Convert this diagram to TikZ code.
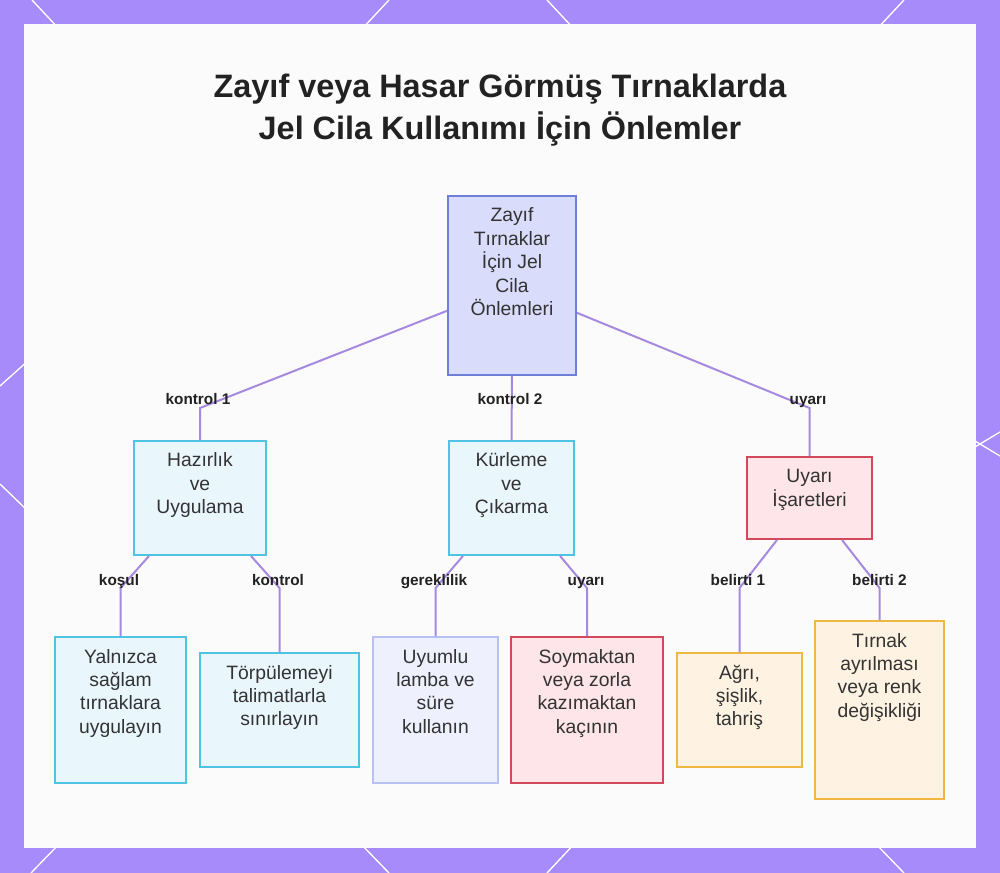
\documentclass[tikz,border=0pt]{standalone}
\usepackage{fontspec}
\setmainfont{Liberation Sans}
\definecolor{bgpurple}{HTML}{A78BFA}
\definecolor{panel}{HTML}{FBFBFB}
\definecolor{connc}{HTML}{A58AE0}
\definecolor{txt}{HTML}{333333}
\definecolor{ttl}{HTML}{222222}
\definecolor{rootf}{HTML}{DADCFC}
\definecolor{rootb}{HTML}{6E7FD8}
\definecolor{cyf}{HTML}{E9F7FD}
\definecolor{cyb}{HTML}{4FC3E3}
\definecolor{lavf}{HTML}{EEF0FE}
\definecolor{lavb}{HTML}{B7C1F4}
\definecolor{redf}{HTML}{FDE5E9}
\definecolor{redb}{HTML}{D4485C}
\definecolor{ambf}{HTML}{FEF3E2}
\definecolor{ambb}{HTML}{F0B843}
\newcommand{\bt}[3]{\parbox[c][#2][t]{#1}{\centering\rule{0pt}{19.5pt}#3}}
\tikzset{
  box/.style={draw, line width=1.5pt, inner sep=0pt, text=txt, font=\fontsize{14.5pt}{17.6pt}\selectfont},
  rootbox/.style={box, draw=rootb, fill=rootf},
  cybox/.style={box, draw=cyb, fill=cyf},
  lavbox/.style={box, draw=lavb, fill=lavf},
  redbox/.style={box, draw=redb, fill=redf},
  ambbox/.style={box, draw=ambb, fill=ambf},
  conn/.style={draw=connc, line width=1.5pt},
  lbl/.style={font=\bfseries\fontsize{11.5pt}{13pt}\selectfont, text=ttl, inner sep=0pt, anchor=base},
  deco/.style={draw=white, line width=1pt}
}
\begin{document}
\begin{tikzpicture}[x=0.75pt,y=-0.75pt]
\useasboundingbox (0,0) rectangle (1000,873);
\fill[bgpurple] (0,0) rectangle (1000,873);
% border decoration lines
\draw[deco] (32,0) -- (60,30);
\draw[deco] (389,0) -- (361,30);
\draw[deco] (547,0) -- (575,30);
\draw[deco] (904,0) -- (876,30);
\draw[deco] (61,842) -- (31,873);
\draw[deco] (359,842) -- (389,873);
\draw[deco] (576,842) -- (547,873);
\draw[deco] (874,842) -- (904,873);
\draw[deco] (0,386) -- (30,359);
\draw[deco] (0,484) -- (30,513);
\draw[deco] (970,450) -- (1000,432);
\draw[deco] (970,438) -- (1000,456);
% panel
\fill[panel] (24,24) rectangle (976,848);
% title
\node[font=\bfseries\fontsize{24.3pt}{31.5pt}\selectfont, text=ttl, align=center, inner sep=0pt] (title) at (500,110.5)
  {Zayıf veya Hasar Görmüş Tırnaklarda\\Jel Cila Kullanımı İçin Önlemler};
% boxes
\node[rootbox] (root) at (512,285.5) {\bt{96pt}{134.25pt}{Zayıf\\Tırnaklar\\İçin Jel\\Cila\\Önlemleri}};
\node[cybox] (hz) at (200,498) {\bt{99pt}{85.5pt}{Hazırlık\\ve\\Uygulama}};
\node[cybox] (kc) at (511.5,498) {\bt{93.75pt}{85.5pt}{Kürleme\\ve\\Çıkarma}};
\node[redbox] (ui) at (809.5,498) {\bt{93.75pt}{61.5pt}{Uyarı\\İşaretleri}};
\node[cybox] (y1) at (120.5,710) {\bt{98.25pt}{109.5pt}{Yalnızca\\sağlam\\tırnaklara\\uygulayın}};
\node[cybox] (t1) at (279.5,710) {\bt{119.25pt}{85.5pt}{Törpülemeyi\\talimatlarla\\sınırlayın}};
\node[lavbox] (u1) at (435.5,710) {\bt{93.75pt}{109.5pt}{Uyumlu\\lamba ve\\süre\\kullanın}};
\node[redbox] (s1) at (587,710) {\bt{114pt}{109.5pt}{Soymaktan\\veya zorla\\kazımaktan\\kaçının}};
\node[ambbox] (a1) at (739.5,710) {\bt{93.75pt}{85.5pt}{Ağrı,\\şişlik,\\tahriş}};
\node[ambbox] (tr) at (879.5,710) {\bt{96.75pt}{133.5pt}{Tırnak\\ayrılması\\veya renk\\değişikliği}};
% bend levels
\coordinate (r1) at (0,408);
\coordinate (r2) at (0,588);
% connectors
\begin{scope}[on background layer/.style={}]
\draw[conn] ([yshift=-19pt]root.west) -- (hz.north |- r1) -- (hz.north);
\draw[conn] (root.south) -- (kc.north);
\draw[conn] ([yshift=-20.5pt]root.east) -- (ui.north |- r1) -- (ui.north);
\draw[conn] ([xshift=-38.25pt]hz.south) -- (y1.north |- r2) -- (y1.north);
\draw[conn] ([xshift=38.25pt]hz.south) -- (t1.north |- r2) -- (t1.north);
\draw[conn] ([xshift=-36.4pt]kc.south) -- (u1.north |- r2) -- (u1.north);
\draw[conn] ([xshift=36.4pt]kc.south) -- (s1.north |- r2) -- (s1.north);
\draw[conn] ([xshift=-24.4pt]ui.south) -- (a1.north |- r2) -- (a1.north);
\draw[conn] ([xshift=24.4pt]ui.south) -- (tr.north |- r2) -- (tr.north);
\end{scope}
% labels
\node[lbl] (l1) at (198,405) {kontrol 1};
\node[lbl] (l2) at (510,405) {kontrol 2};
\node[lbl] (l3) at (808,405) {uyarı};
\node[lbl] (l4) at (119,585) {koşul};
\node[lbl] (l5) at (278,585) {kontrol};
\node[lbl] (l6) at (434,585) {gereklilik};
\node[lbl] (l7) at (586,585) {uyarı};
\node[lbl] (l8) at (738,585) {belirti 1};
\node[lbl] (l9) at (879.5,585) {belirti 2};
\end{tikzpicture}
\end{document}
